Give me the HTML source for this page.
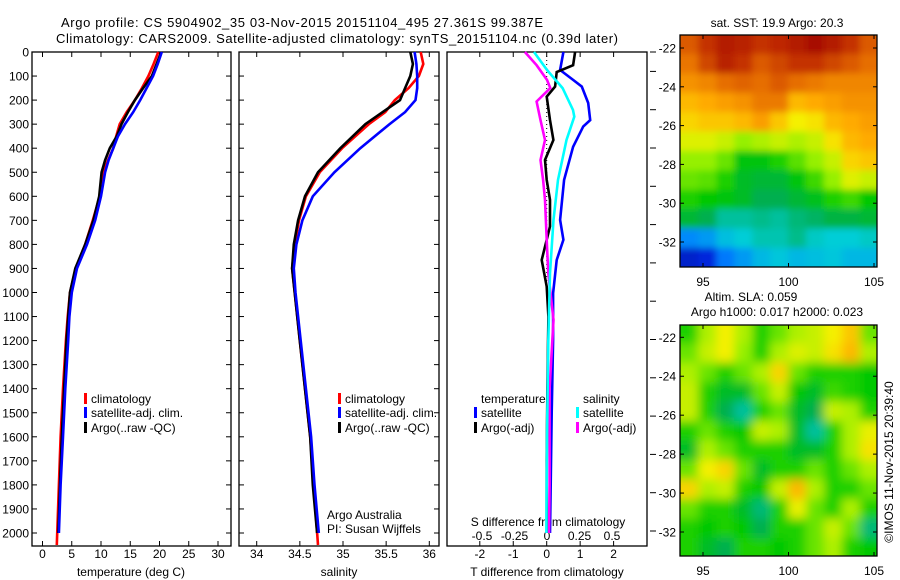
<!DOCTYPE html>
<html><head><meta charset="utf-8"><style>
html,body{margin:0;padding:0;background:#fff;}
svg{display:block;font-family:"Liberation Sans",sans-serif;}
text{fill:#000;}
</style></head><body>
<svg id="fig" width="900" height="580" viewBox="0 0 900 580" xmlns="http://www.w3.org/2000/svg">
<defs>
<clipPath id="clipSST"><rect x="680" y="35" width="197" height="232"/></clipPath>
<clipPath id="clipSLA"><rect x="680" y="325" width="197" height="231"/></clipPath>
<filter id="blurS" x="-5%" y="-5%" width="110%" height="110%"><feGaussianBlur stdDeviation="3.5"/></filter>
<filter id="blurL" x="-5%" y="-5%" width="110%" height="110%"><feGaussianBlur stdDeviation="5"/></filter>
</defs>
<text x="61" y="27" font-size="13" textLength="482">Argo profile: CS 5904902_35 03-Nov-2015 20151104_495 27.361S 99.387E</text>
<text x="56" y="43" font-size="13" textLength="562">Climatology: CARS2009. Satellite-adjusted climatology: synTS_20151104.nc (0.39d later)</text>
<g id="g"></g>
</svg>
<script>
// ---- profile data (depth in m) ----
const tDepth = [0,50,100,150,200,250,300,350,400,450,500,600,700,800,900,1000,1100,1200,1400,1600,1800,2000];
const tArgo  = [20.3,19.5,18.7,17.2,15.8,14.6,13.5,12.7,11.5,10.7,10.1,9.7,8.7,7.3,5.6,4.7,4.4,4.1,3.7,3.3,3.0,2.7];
const tClim  = [19.8,19.0,18.1,17.0,15.8,14.4,13.2,12.6,12.1,11.2,10.4,9.8,8.6,7.3,5.7,4.7,4.3,4.0,3.5,3.1,2.8,2.45];
const tSat   = [20.4,19.7,18.9,17.8,16.7,15.5,14.1,12.9,12.1,11.3,10.7,10.0,9.0,7.6,5.9,5.0,4.6,4.4,3.9,3.5,3.1,2.8];
const sDepth = [0,50,100,150,200,250,300,400,500,600,700,800,900,1000,1200,1400,1600,1800,2000];
const sArgo  = [35.78,35.81,35.78,35.72,35.66,35.46,35.26,34.97,34.71,34.56,34.48,34.43,34.41,34.44,34.5,34.56,34.62,34.65,34.70];
const sClim  = [35.9,35.93,35.88,35.76,35.6,35.49,35.3,34.99,34.73,34.57,34.49,34.44,34.41,34.44,34.5,34.56,34.62,34.66,34.71];
const sSat   = [35.83,35.85,35.86,35.86,35.84,35.72,35.54,35.2,34.9,34.65,34.53,34.46,34.43,34.45,34.51,34.57,34.63,34.67,34.72];
// ---- difference data ----
const dtSatDepth = [0,75,116,144,212,283,310,394,532,698,781,865,1003,1198,1500,1800,2000];
const dtSat      = [0.5,0.4,0.79,1.05,1.24,1.3,1.09,0.79,0.52,0.4,0.5,0.3,0.19,0.19,0.15,0.12,0.1];
const dtArgoDepth= [0,55,83,144,186,283,366,449,532,615,725,781,865,975,1100,1400,1700,2000];
const dtArgo     = [0.85,0.79,0.3,0.25,0,0.1,0.2,-0.05,0,0.1,0.1,0,-0.15,0,0.05,0.02,0.0,0.0];
const dsSatDepth = [0,75,150,241,269,366,532,698,920,1200,1600,2000];
const dsSat      = [-0.1,0,0.12,0.2,0.21,0.15,0.085,0.05,0.023,0.01,0.0,-0.005];
const dsArgoDepth= [0,55,116,150,206,283,366,449,532,615,809,920,1114,1400,1800,2000];
const dsArgo     = [-0.17,-0.08,0,0.025,-0.08,-0.05,-0.015,-0.05,-0.03,-0.015,0,0.01,0.05,0.02,0.02,0.015];
// ---- tick labels ----
const depthTicks = [0,100,200,300,400,500,600,700,800,900,1000,1100,1200,1300,1400,1500,1600,1700,1800,1900,2000];
const tTicks = [0,5,10,15,20,25,30];
const sTicks = [34,34.5,35,35.5,36];
const dtTicks = [-2,-1,0,1,2];
const dsTicks = [-0.5,-0.25,0,0.25,0.5];
const latTicks = [-22,-24,-26,-28,-30,-32];
const lonTicks = [95,100,105];
// ---- map grids (normalized colour value 0..1, rows north->south) ----
const sstLats = [-21.8,-22.8,-23.8,-24.8,-25.8,-26.8,-27.8,-28.8,-29.8,-30.8,-31.8,-32.8];
const sstLons = [94.2,95.25,96.3,97.35,98.4,99.45,100.5,101.55,102.6,103.65,104.7];
const sstRows = [
[.88,.92,.95,.94,.92,.93,.95,.97,.95,.92,.88],
[.85,.9,.94,.92,.88,.9,.92,.92,.9,.88,.86],
[.8,.82,.86,.87,.86,.88,.86,.84,.82,.82,.82],
[.74,.76,.78,.8,.84,.84,.74,.76,.78,.8,.8],
[.7,.72,.72,.74,.78,.72,.66,.68,.74,.76,.78],
[.64,.64,.62,.58,.6,.62,.6,.62,.68,.74,.76],
[.58,.58,.55,.47,.47,.5,.54,.58,.62,.7,.72],
[.55,.54,.5,.45,.44,.44,.47,.52,.58,.64,.62],
[.5,.48,.47,.45,.42,.42,.44,.46,.5,.52,.48],
[.44,.42,.38,.38,.39,.38,.4,.41,.43,.43,.44],
[.26,.28,.33,.35,.37,.37,.39,.36,.35,.35,.36],
[.12,.15,.24,.28,.32,.34,.32,.33,.34,.32,.32]];
const slaRows = [
[.5,.6,.66,.6,.5,.55,.6,.62,.66,.72,.55],
[.55,.62,.66,.58,.5,.6,.64,.62,.68,.74,.6],
[.6,.55,.5,.55,.6,.7,.55,.5,.5,.5,.48],
[.62,.5,.45,.45,.55,.62,.48,.45,.52,.5,.48],
[.62,.5,.42,.38,.5,.55,.45,.42,.62,.6,.5],
[.5,.55,.5,.48,.62,.6,.45,.38,.5,.6,.65],
[.45,.6,.55,.5,.5,.5,.45,.45,.5,.6,.68],
[.55,.66,.7,.55,.45,.5,.5,.55,.5,.55,.6],
[.7,.6,.62,.5,.48,.62,.74,.6,.5,.5,.55],
[.55,.5,.5,.45,.4,.5,.65,.55,.5,.6,.5],
[.5,.48,.5,.48,.42,.5,.5,.55,.62,.55,.4],
[.5,.45,.42,.5,.5,.48,.5,.55,.6,.5,.48]];

const NS='http://www.w3.org/2000/svg';
const G=document.getElementById('g');
function mk(tag,attrs,parent){const e=document.createElementNS(NS,tag);for(const k in attrs)e.setAttribute(k,attrs[k]);(parent||G).appendChild(e);return e;}
function txt(s,x,y,size,anchor,parent){const e=mk('text',{x:x,y:y,'font-size':size,'text-anchor':anchor||'start'},parent);e.textContent=s;return e;}

const yD = d => 52 + d*0.2405;
const xT = t => 42.5 + t*5.85;
const xS = s => 256.7 + (s-34)*86.3;
const xDT = v => 546.7 + v*33.45;
const xDS = v => 547 + v*130;
const xLon = l => 703 + (l-95)*17.1;
const yLat1 = l => 48 + (-22-l)*19.4;
const yLat2 = l => 337.3 + (-22-l)*19.47;

const panels=[[32,231,'temperature-panel'],[239,439,'salinity-panel'],[447,647,'difference-panel']];
panels.forEach(p=>{
  const r=mk('rect',{x:p[0],y:52,width:p[1]-p[0],height:494,fill:'none',stroke:'#000','stroke-width':1.3});
  
  
});
depthTicks.forEach(d=>{
  const y=yD(d);
  mk('line',{x1:32,x2:37,y1:y,y2:y,stroke:'#000'});
  mk('line',{x1:226,x2:231,y1:y,y2:y,stroke:'#000'});
  mk('line',{x1:239,x2:244,y1:y,y2:y,stroke:'#000'});
  mk('line',{x1:434,x2:439,y1:y,y2:y,stroke:'#000'});
  const t=txt(String(d),29,y+4.5,12,'end');
  
  
});
for(let y=531;y>=60;y-=38.3){mk('line',{x1:650,x2:656,y1:y,y2:y,stroke:'#000'});}
mk('line',{x1:650,x2:656,y1:52,y2:52,stroke:'#000'});
function xticks(ticks,fx,label,ytop,ybot){
  ticks.forEach(v=>{const x=fx(v);
    mk('line',{x1:x,x2:x,y1:ybot,y2:ybot-5,stroke:'#000'});
    mk('line',{x1:x,x2:x,y1:ytop,y2:ytop+5,stroke:'#000'});
    const t=txt(label?label(v):String(v),x,558,12,'middle');
    
    
  });
}
xticks(tTicks,xT,null,52,546);
xticks(sTicks,xS,null,52,546);
xticks(dtTicks,xDT,null,52,546);
dsTicks.forEach(v=>{const t=txt(String(v),xDS(v),540,12,'middle');
  
  });
let a;
a=txt('temperature (deg C)',131,576,12,'middle');
a=txt('salinity',339,576,12,'middle');
a=txt('T difference from climatology',547,576,12,'middle');
a=txt('S difference from climatology',548,526,12,'middle');
a=txt('Argo Australia',327,519,12,'start');
a=txt('PI: Susan Wijffels',327,533,12,'start');

mk('line',{x1:xDT(0),x2:xDT(0),y1:52,y2:300,stroke:'#000','stroke-dasharray':'1,3'});

function line(depths,vals,fx,color,name,w){
  const pts=depths.map((d,i)=>fx(vals[i]).toFixed(1)+','+yD(d).toFixed(1)).join(' ');
  const e=mk('polyline',{points:pts,fill:'none',stroke:color,'stroke-width':w||2.6,'stroke-linejoin':'miter'});
  
  
}
const tClimD=tDepth.slice();tClimD[tClimD.length-1]=2050;
line(tClimD,tClim,xT,'#f00','temperature-climatology-line');
line(tDepth,tArgo,xT,'#000','temperature-argo-line');
line(tDepth,tSat,xT,'#00f','temperature-satellite-line');
const sClimD=sDepth.slice();sClimD[sClimD.length-1]=2050;
line(sClimD,sClim,xS,'#f00','salinity-climatology-line');
line(sDepth,sArgo,xS,'#000','salinity-argo-line');
line(sDepth,sSat,xS,'#00f','salinity-satellite-line');
line(dtSatDepth,dtSat,xDT,'#00f','t-diff-satellite-line');
line(dtArgoDepth,dtArgo,xDT,'#000','t-diff-argo-line');
line(dsArgoDepth,dsArgo,xDS,'#f0f','s-diff-argo-line');
line(dsSatDepth,dsSat,xDS,'#0ff','s-diff-satellite-line');

function legend(x,y,color,label,name){
  mk('rect',{x:x,y:y-10,width:3,height:11,fill:color});
  const t=txt(label,x+7,y,12,'start');
  
  
}
legend(84,403,'#f00','climatology','legend-t-climatology');
legend(84,417,'#00f','satellite-adj. clim.','legend-t-satellite');
legend(84,432,'#000','Argo(..raw -QC)','legend-t-argo');
legend(338,403,'#f00','climatology','legend-s-climatology');
legend(338,417,'#00f','satellite-adj. clim.','legend-s-satellite');
legend(338,432,'#000','Argo(..raw -QC)','legend-s-argo');
a=txt('temperature',481,403,12,'start');
a=txt('salinity',583,403,12,'start');
legend(474,417,'#00f','satellite','legend-dt-satellite');
legend(474,432,'#000','Argo(-adj)','legend-dt-argo');
legend(576,417,'#0ff','satellite','legend-ds-satellite');
legend(576,432,'#f0f','Argo(-adj)','legend-ds-argo');

const stops=[[0,[0,0,130]],[0.15,[0,40,220]],[0.25,[0,130,255]],[0.35,[0,205,215]],[0.42,[0,175,80]],[0.48,[0,200,0]],[0.58,[150,240,0]],[0.66,[245,240,0]],[0.76,[255,170,0]],[0.86,[230,110,0]],[0.93,[190,40,0]],[1,[150,0,0]]];
function cmap(v){
  for(let i=1;i<stops.length;i++){if(v<=stops[i][0]){const a=stops[i-1],b=stops[i];const f=(v-a[0])/(b[0]-a[0]);
    return 'rgb('+a[1].map((c,k)=>Math.round(c+(b[1][k]-c)*f)).join(',')+')';}}
  return 'rgb(150,0,0)';
}
function drawMap(rows,yLat,clip,filt,name,top,bot){
  const outer=mk('g',{'clip-path':'url(#'+clip+')'});
  
  
  const inner=mk('g',{filter:'url(#'+filt+')'},outer);
  rows.forEach((row,i)=>row.forEach((v,j)=>{
    const lat=sstLats[i],lon=sstLons[j];
    let x0=xLon(lon-0.525),x1=xLon(lon+0.525),y0=yLat(lat+0.5),y1=yLat(lat-0.5);
    if(j===0)x0-=20; if(j===row.length-1)x1+=20;
    if(i===0)y0-=20; if(i===rows.length-1)y1+=20;
    const c=mk('rect',{x:x0.toFixed(1),y:y0.toFixed(1),width:(x1-x0+0.6).toFixed(1),height:(y1-y0+0.6).toFixed(1),fill:cmap(v)},inner);
    
    
  }));
  mk('rect',{x:680,y:top,width:197,height:bot-top,fill:'none',stroke:'#000','stroke-width':1.3});
  latTicks.forEach(l=>{const y=yLat(l);
    mk('line',{x1:680,x2:684,y1:y,y2:y,stroke:'#000'});mk('line',{x1:873,x2:877,y1:y,y2:y,stroke:'#000'});
    const t=txt(String(l),676,y+4.5,12,'end');
    
    });
  lonTicks.forEach(l=>{const x=xLon(l);
    mk('line',{x1:x,x2:x,y1:bot,y2:bot-4,stroke:'#000'});mk('line',{x1:x,x2:x,y1:top,y2:top+4,stroke:'#000'});
    const t=txt(String(l),x,bot+19,12,'middle');
    
    });
}
drawMap(sstRows,yLat1,'clipSST','blurS','sst-map',35,267);
drawMap(slaRows,yLat2,'clipSLA','blurL','sla-map',325,556);
a=txt('sat. SST: 19.9 Argo: 20.3',777,27,12,'middle');
a=txt('Altim. SLA: 0.059',751,301,12,'middle');
a=txt('Argo h1000: 0.017 h2000: 0.023',777,316,12,'middle');
a=txt('©IMOS 11-Nov-2015 20:39:40',0,0,12,'middle');
a.setAttribute('transform','translate(893,462) rotate(-90)');

</script>
</body></html>
